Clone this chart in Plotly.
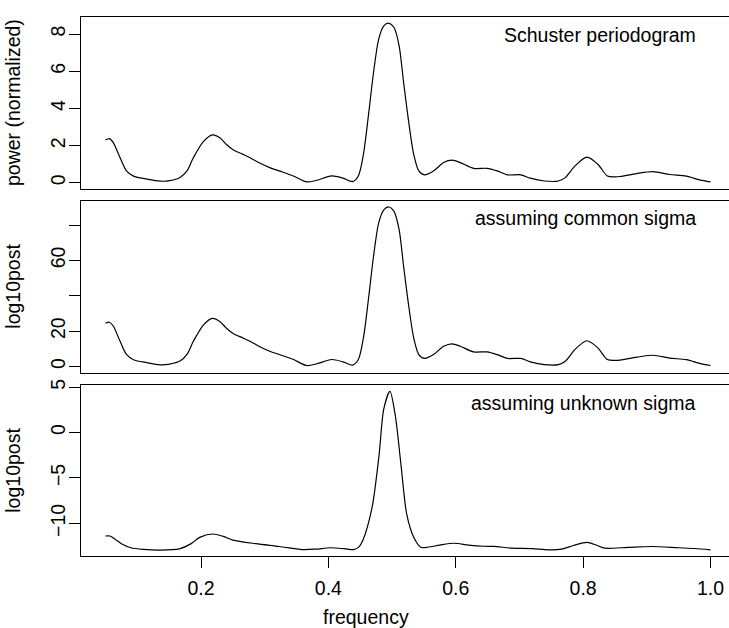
import plotly.graph_objects as go

# ---- data ----
freq_a = [0.050, 0.056, 0.062, 0.073, 0.083, 0.094, 0.115, 0.136, 0.151, 0.167,
          0.178, 0.188, 0.204, 0.218, 0.230, 0.240, 0.251, 0.266, 0.277, 0.293,
          0.308, 0.324, 0.345, 0.366, 0.382, 0.405, 0.423, 0.438, 0.447, 0.455,
          0.463, 0.471, 0.479, 0.487, 0.495, 0.503, 0.511, 0.518, 0.526, 0.534,
          0.542, 0.551, 0.565, 0.581, 0.594, 0.607, 0.628, 0.649, 0.665, 0.681,
          0.702, 0.717, 0.739, 0.761, 0.772, 0.787, 0.806, 0.823, 0.838, 0.849,
          0.858, 0.884, 0.910, 0.936, 0.962, 0.983, 1.000]

power_schuster = [2.30, 2.38, 2.18, 1.35, 0.64, 0.36, 0.20, 0.09, 0.12, 0.29,
                  0.64, 1.35, 2.23, 2.58, 2.41, 2.06, 1.76, 1.53, 1.35, 1.05,
                  0.82, 0.63, 0.37, 0.05, 0.14, 0.37, 0.25, 0.07, 0.37, 1.53,
                  3.65, 5.96, 7.73, 8.44, 8.58, 8.35, 7.38, 5.43, 3.30, 1.53,
                  0.64, 0.43, 0.64, 1.09, 1.22, 1.09, 0.78, 0.78, 0.64, 0.43,
                  0.43, 0.25, 0.10, 0.10, 0.28, 0.90, 1.38, 1.00, 0.37, 0.32,
                  0.34, 0.50, 0.60, 0.45, 0.36, 0.16, 0.05]

log10post_common = [24.4, 25.0, 23.0, 14.2, 6.8, 3.8, 2.1, 0.9, 1.3, 3.0,
                    6.8, 14.2, 23.5, 27.2, 25.3, 21.6, 18.5, 16.1, 14.2, 11.0,
                    8.6, 6.6, 3.9, 0.5, 1.5, 3.9, 2.6, 0.7, 3.9, 16.1,
                    38.3, 62.6, 81.2, 88.6, 90.2, 87.7, 77.5, 57.0, 34.6, 16.1,
                    6.7, 4.5, 6.7, 11.4, 12.8, 11.4, 8.2, 8.2, 6.7, 4.5,
                    4.5, 2.6, 1.0, 1.0, 2.9, 9.5, 14.5, 10.5, 3.9, 3.4,
                    3.6, 5.2, 6.3, 4.7, 3.8, 1.7, 0.5]

freq_b = [0.050, 0.057, 0.065, 0.075, 0.090, 0.110, 0.135, 0.166, 0.184, 0.198,
          0.219, 0.235, 0.250, 0.286, 0.323, 0.359, 0.380, 0.403, 0.425, 0.440,
          0.448, 0.454, 0.4685, 0.4796, 0.487, 0.4966, 0.505, 0.514, 0.523, 0.534,
          0.545, 0.556, 0.575, 0.597, 0.620, 0.644, 0.660, 0.688, 0.720, 0.746,
          0.768, 0.785, 0.806, 0.822, 0.834, 0.870, 0.907, 0.950, 0.975, 1.000]

log10post_unknown = [-11.40, -11.40, -11.75, -12.25, -12.70, -12.88, -12.95, -12.82, -12.27, -11.55,
                     -11.18, -11.45, -11.85, -12.25, -12.56, -12.90, -12.85, -12.70, -12.80, -12.90,
                     -12.60, -11.90, -8.28, -2.47, 2.60, 4.54, 1.90, -3.56, -9.00, -11.55,
                     -12.64, -12.64, -12.40, -12.20, -12.40, -12.53, -12.55, -12.74, -12.80, -12.93,
                     -12.82, -12.45, -12.10, -12.45, -12.74, -12.65, -12.56, -12.70, -12.78, -12.93]

x_tickvals = [0.2, 0.4, 0.6, 0.8, 1.0]
x_ticktext = ["0.2", "0.4", "0.6", "0.8", "1.0"]
y1_tickvals = [0, 2, 4, 6, 8]
y1_ticktext = ["0", "2", "4", "6", "8"]
y2_tickvals = [0, 20, 40, 60, 80]
y2_ticktext = ["0", "20", "", "60", ""]
y3_tickvals = [-10, -5, 0, 5]
y3_ticktext = ["\u221210", "\u22125", "0", "5"]

panel_titles = ["Schuster periodogram", "assuming common sigma", "assuming unknown sigma"]
y_titles = ["power (normalized)", "log10post", "log10post"]
x_title = "frequency"

# ---- layout geometry (pixels) ----
W, H = 729, 628
FONT = "Liberation Sans, Arial, Helvetica, sans-serif"
FS = 19.5
left_px = 81
panels_px = [(11, 185), (196.5, 370.3), (382.7, 555.7)]
yranges = [[-0.343, 8.92], [-3.6, 93.8], [-13.65, 5.24]]
xrange_ = [0.0116, 1.029]

fig = go.Figure()
series = [(freq_a, power_schuster), (freq_a, log10post_common), (freq_b, log10post_unknown)]
for i, (fx, fy) in enumerate(series):
    sfx = "" if i == 0 else str(i + 1)
    fig.add_trace(go.Scatter(x=fx, y=fy, mode="lines",
                             line=dict(color="black", width=1.2, shape="spline", smoothing=0.8),
                             xaxis="x" + sfx, yaxis="y" + sfx, showlegend=False,
                             hoverinfo="skip"))

layout = dict(width=W, height=H, margin=dict(l=0, r=0, t=0, b=0),
              paper_bgcolor="white", plot_bgcolor="white",
              font=dict(family=FONT, size=FS, color="black"),
              showlegend=False)

ytick = [(y1_tickvals, y1_ticktext), (y2_tickvals, y2_ticktext), (y3_tickvals, y3_ticktext)]
annotations = []
for i, (top, bot) in enumerate(panels_px):
    sfx = "" if i == 0 else str(i + 1)
    dom_y = [1 - bot / H, 1 - top / H]
    last = (i == 2)
    layout["xaxis" + sfx] = dict(domain=[left_px / W, 1], range=xrange_, anchor="y" + sfx,
                                 showgrid=False, zeroline=False, showline=True, mirror=True,
                                 linecolor="black", linewidth=1,
                                 tickmode="array", tickvals=x_tickvals if last else [],
                                 ticktext=x_ticktext if last else [],
                                 ticks="outside" if last else "", ticklen=11, tickcolor="black",
                                 tickwidth=1, showticklabels=last, ticklabelstandoff=3,
                                 tickfont=dict(family=FONT, size=FS, color="black"))
    tv, tt = ytick[i]
    layout["yaxis" + sfx] = dict(domain=dom_y, range=yranges[i], anchor="x" + sfx,
                                 showgrid=False, zeroline=False, showline=True, mirror=False,
                                 linecolor="black", linewidth=1,
                                 tickmode="array", tickvals=tv, ticktext=tt,
                                 ticks="outside", ticklen=11, tickcolor="black", tickwidth=1,
                                 tickangle=-90, ticklabelstandoff=-4,
                                 tickfont=dict(family=FONT, size=FS, color="black"))
    annotations.append(dict(text=panel_titles[i], xref="paper", yref="paper",
                            x=698 / W, y=1 - (top + 18) / H, xanchor="right", yanchor="middle",
                            showarrow=False, font=dict(family=FONT, size=FS, color="black")))
    annotations.append(dict(text=y_titles[i], xref="paper", yref="paper",
                            x=13 / W, y=1 - ((top + bot) / 2) / H, xanchor="center",
                            yanchor="middle", textangle=-90, showarrow=False,
                            font=dict(family=FONT, size=FS, color="black")))

annotations.append(dict(text=x_title, xref="paper", yref="paper", x=366 / W, y=1 - 617 / H,
                        xanchor="center", yanchor="middle", showarrow=False,
                        font=dict(family=FONT, size=FS, color="black")))
layout["annotations"] = annotations
fig.update_layout(**layout)
fig.write_html("out.html")
